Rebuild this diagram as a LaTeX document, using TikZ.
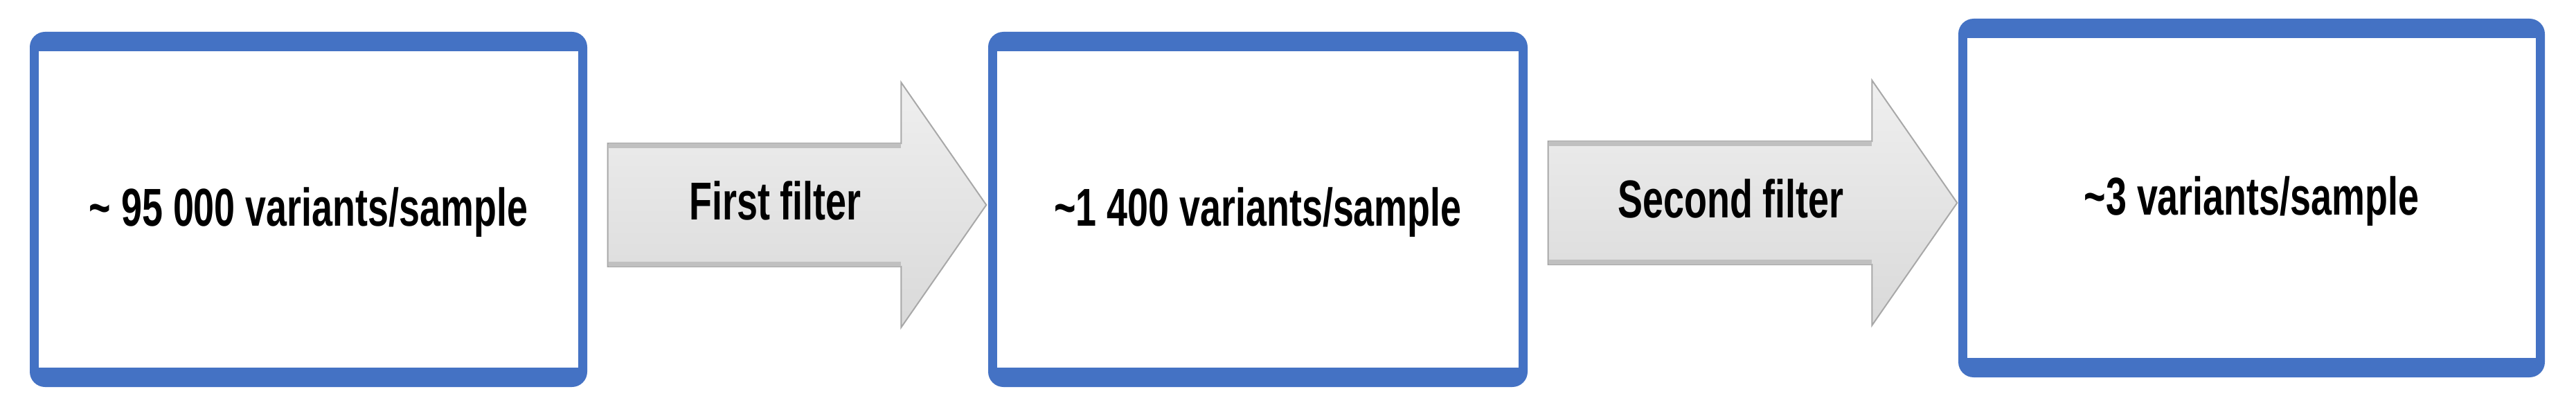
\documentclass[tikz,border=0pt]{standalone}
\usepackage{fontspec}
\setmainfont{Liberation Sans}
\usepackage{graphicx}
\usetikzlibrary{calc}
\definecolor{boxblue}{HTML}{4472C4}
\definecolor{arrowtop}{HTML}{EFEFEF}
\definecolor{arrowbottom}{HTML}{D9D9D9}
\definecolor{arrowline}{HTML}{A8A8A8}
\definecolor{bandgray}{HTML}{C0C0C0}
\newcommand{\narrowtext}[1]{\scalebox{0.7}[1]{\fontsize{21.9pt}{26pt}\selectfont\bfseries #1}}

\begin{document}
\begin{tikzpicture}[
stage/.style={fill=boxblue, rounded corners=0.22cm, inner sep=0, text height=0.62cm, text depth=0.14cm,
  path picture={\fill[white, sharp corners] ([shift={(0.13,-0.28)}]path picture bounding box.north west) rectangle ([shift={(-0.13,0.28)}]path picture bounding box.south east);}},
blockarrow/.style={top color=arrowtop, bottom color=arrowbottom, draw=arrowline, line width=0.02cm},
band/.style={draw=bandgray, line width=0.07cm},
filtertext/.style={anchor=base, inner sep=0}]

% SIZE OF THE PICTURE
\useasboundingbox (0,0) rectangle (37.20,5.97);
%%%%%%%%% BOXES %%%%%%%%%%%%%
\node[stage, minimum width=8.05cm, minimum height=5.13cm] (s1) at (4.455,2.945) {\narrowtext{\textasciitilde{} 95 000 variants/sample}};
\node[stage, minimum width=7.79cm, minimum height=5.13cm] (s2) at (18.165,2.945) {\narrowtext{\textasciitilde1 400 variants/sample}};
\node[stage, minimum width=8.47cm, minimum height=5.18cm] (s3) at (32.515,3.11) {\narrowtext{\textasciitilde3 variants/sample}};
%%%%%%%%% 1st ARROW %%%%%%%%%
\coordinate (a1) at (0,3.01);
\coordinate (t1) at ($(s1.east |- a1)+(0.29,0)$);
\coordinate (p1) at ($(s2.west |- a1)+(-0.02,0)$);
\path[blockarrow] ($(t1)+(0,0.89)$) -- ($(p1)+(-1.23,0.89)$) -- ($(p1)+(-1.23,1.77)$) -- (p1)
  -- ($(p1)+(-1.23,-1.77)$) -- ($(p1)+(-1.23,-0.89)$) -- ($(t1)+(0,-0.89)$) -- cycle;
\draw[band] ($(t1)+(0.01,0.855)$) -- ($(p1)+(-1.23,0.855)$);
\draw[band] ($(t1)+(0.01,-0.855)$) -- ($(p1)+(-1.23,-0.855)$);
\node[filtertext] (f1) at ($(t1)!0.5!(p1)+(-0.315,-0.21)$) {\narrowtext{First filter}};
%%%%%%%%% 2nd ARROW %%%%%%%%%
\coordinate (a2) at (0,3.04);
\coordinate (t2) at ($(s2.east |- a2)+(0.29,0)$);
\coordinate (p2) at ($(s3.west |- a2)+(-0.01,0)$);
\path[blockarrow] ($(t2)+(0,0.89)$) -- ($(p2)+(-1.23,0.89)$) -- ($(p2)+(-1.23,1.77)$) -- (p2)
  -- ($(p2)+(-1.23,-1.77)$) -- ($(p2)+(-1.23,-0.89)$) -- ($(t2)+(0,-0.89)$) -- cycle;
\draw[band] ($(t2)+(0.01,0.855)$) -- ($(p2)+(-1.23,0.855)$);
\draw[band] ($(t2)+(0.01,-0.855)$) -- ($(p2)+(-1.23,-0.855)$);
\node[filtertext] (f2) at ($(t2)!0.5!(p2)+(-0.315,-0.21)$) {\narrowtext{Second filter}};
\end{tikzpicture}
\end{document}
